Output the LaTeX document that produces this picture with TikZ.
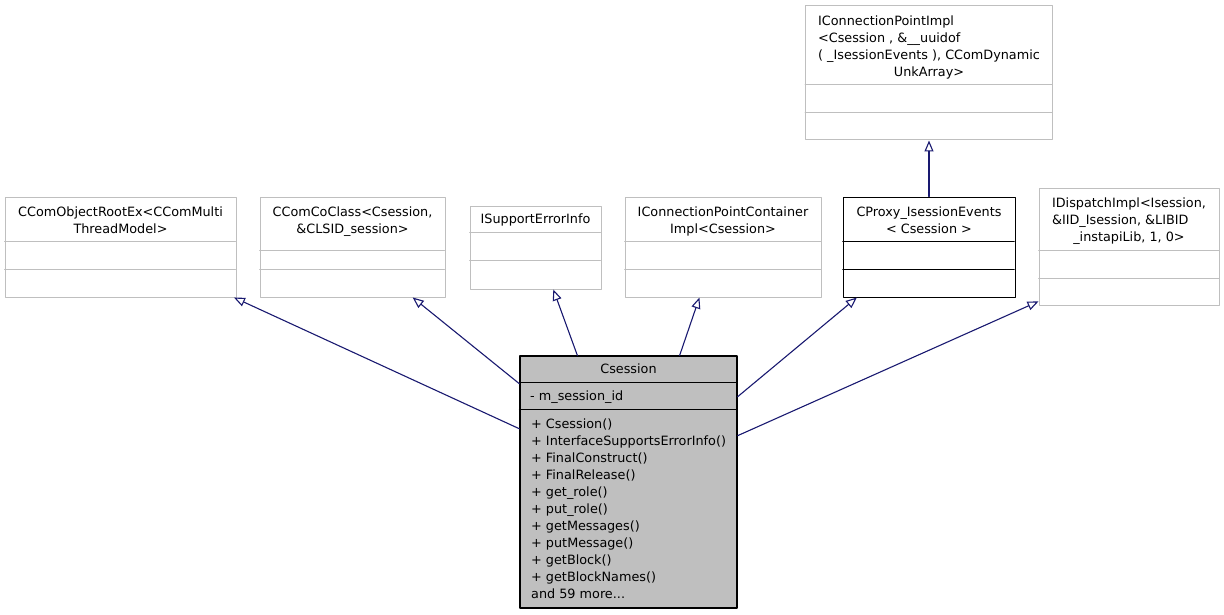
\documentclass[tikz,border=0pt]{standalone}
\usepackage{fontspec}
\setmainfont{DejaVu Sans}
\usetikzlibrary{arrows.meta}
\definecolor{edgeblue}{HTML}{191970}
\definecolor{boxgray}{HTML}{BFBFBF}
\tikzset{
 cls/.style={draw=boxgray, line width=1pt, inner sep=0pt},
 clsline/.style={draw=boxgray, line width=1pt},
 mainbox/.style={draw=black, fill=boxgray, line width=1.2pt, inner sep=0pt},
 inh/.style={draw=edgeblue, line width=1.1pt, -{Triangle[open, length=11pt, width=9pt]}},
 lbl/.style={inner sep=0pt}
}
\begin{document}
\begin{tikzpicture}[x=1pt, y=-1pt, font=\fontsize{12.8}{17}\selectfont, line join=round, line cap=round]
 \useasboundingbox (0,0) rectangle (1224,615);
 % top parent
 \node[cls, minimum width=247, minimum height=134] (cpimpl) at (929,73) {};
 \draw[clsline] (cpimpl.north west) ++(0,79) -- ++(247,0) ++(-247,28) -- ++(247,0);
 \node[lbl] (cpimpl-t) at (929,47.3) {\begin{tabular}{@{}l@{}}IConnectionPointImpl\\<Csession , \&\_\_uuidof\\( \_IsessionEvents ), CComDynamic\\\multicolumn{1}{@{}c@{}}{UnkArray>}\end{tabular}};
 % parents of Csession
 \node[cls, minimum width=231, minimum height=100] (rootex) at (120.5,247) {};
 \draw[clsline] (rootex.north west) ++(0,45) -- ++(231,0) ++(-231,28) -- ++(231,0);
 \node[lbl] (rootex-t) at (120.5,221.6) {\begin{tabular}{@{}l@{}}CComObjectRootEx<CComMulti\\\multicolumn{1}{@{}c@{}}{ThreadModel>}\end{tabular}};
 \node[cls, minimum width=185, minimum height=100] (coclass) at (352.5,247) {};
 \draw[clsline] (coclass.north west) ++(0,54) -- ++(185,0) ++(-185,19) -- ++(185,0);
 \node[lbl] (coclass-t) at (352.5,221.6) {\begin{tabular}{@{}l@{}}CComCoClass<Csession,\\\multicolumn{1}{@{}c@{}}{\&CLSID\_session>}\end{tabular}};
 \node[cls, minimum width=131, minimum height=83] (isupport) at (535.5,247.5) {};
 \draw[clsline] (isupport.north west) ++(0,27) -- ++(131,0) ++(-131,28) -- ++(131,0);
 \node[lbl] (isupport-t) at (535.5,220) {ISupportErrorInfo};
 \node[cls, minimum width=196, minimum height=100] (cpcont) at (723,247) {};
 \draw[clsline] (cpcont.north west) ++(0,45) -- ++(196,0) ++(-196,28) -- ++(196,0);
 \node[lbl] (cpcont-t) at (723,221.6) {\begin{tabular}{@{}l@{}}IConnectionPointContainer\\\multicolumn{1}{@{}c@{}}{Impl<Csession>}\end{tabular}};
 \node[cls, draw=black, minimum width=172, minimum height=100] (cproxy) at (929,247) {};
 \draw (cproxy.north west) ++(0,45) -- ++(172,0) ++(-172,28) -- ++(172,0);
 \node[lbl] (cproxy-t) at (929,221.6) {\begin{tabular}{@{}l@{}}CProxy\_IsessionEvents\\\multicolumn{1}{@{}c@{}}{< Csession >}\end{tabular}};
 \node[cls, minimum width=180, minimum height=116] (idisp) at (1129,247) {};
 \draw[clsline] (idisp.north west) ++(0,62) -- ++(180,0) ++(-180,28) -- ++(180,0);
 \node[lbl] (idisp-t) at (1129,221.5) {\begin{tabular}{@{}l@{}}IDispatchImpl<Isession,\\\&IID\_Isession, \&LIBID\\\multicolumn{1}{@{}c@{}}{\_instapiLib, 1, 0>}\end{tabular}};
 % Csession
 \node[mainbox, minimum width=217, minimum height=252] (cs) at (628.5,482) {};
 \draw[line width=1.2pt] (cs.north west) ++(0,27) -- ++(217,0) ++(-217,27) -- ++(217,0);
 \node[lbl] (cs-t) at (628.5,369) {Csession};
 \node[lbl, anchor=west] (cs-a) at (530,397) {- m\_session\_id};
 \node[lbl, anchor=north west, align=left] (cs-m) at (531,419) {+ Csession()\\+ InterfaceSupportsErrorInfo()\\+ FinalConstruct()\\+ FinalRelease()\\+ get\_role()\\+ put\_role()\\+ getMessages()\\+ putMessage()\\+ getBlock()\\+ getBlockNames()\\and 59 more...};
 % inheritance
 \draw[inh] (cs.154) -- (rootex.336);
 \draw[inh] (cs.138) -- (coclass.320);
 \draw[inh] (cs.112) -- (isupport.293);
 \draw[inh] (cs.68) -- (cpcont.245);
 \draw[inh] (cs.38) -- (cproxy.215);
 \draw[inh] (cs.23) -- (idisp.211);
 \draw[inh] (cproxy.north) -- (cpimpl.south);
\end{tikzpicture}
\end{document}
